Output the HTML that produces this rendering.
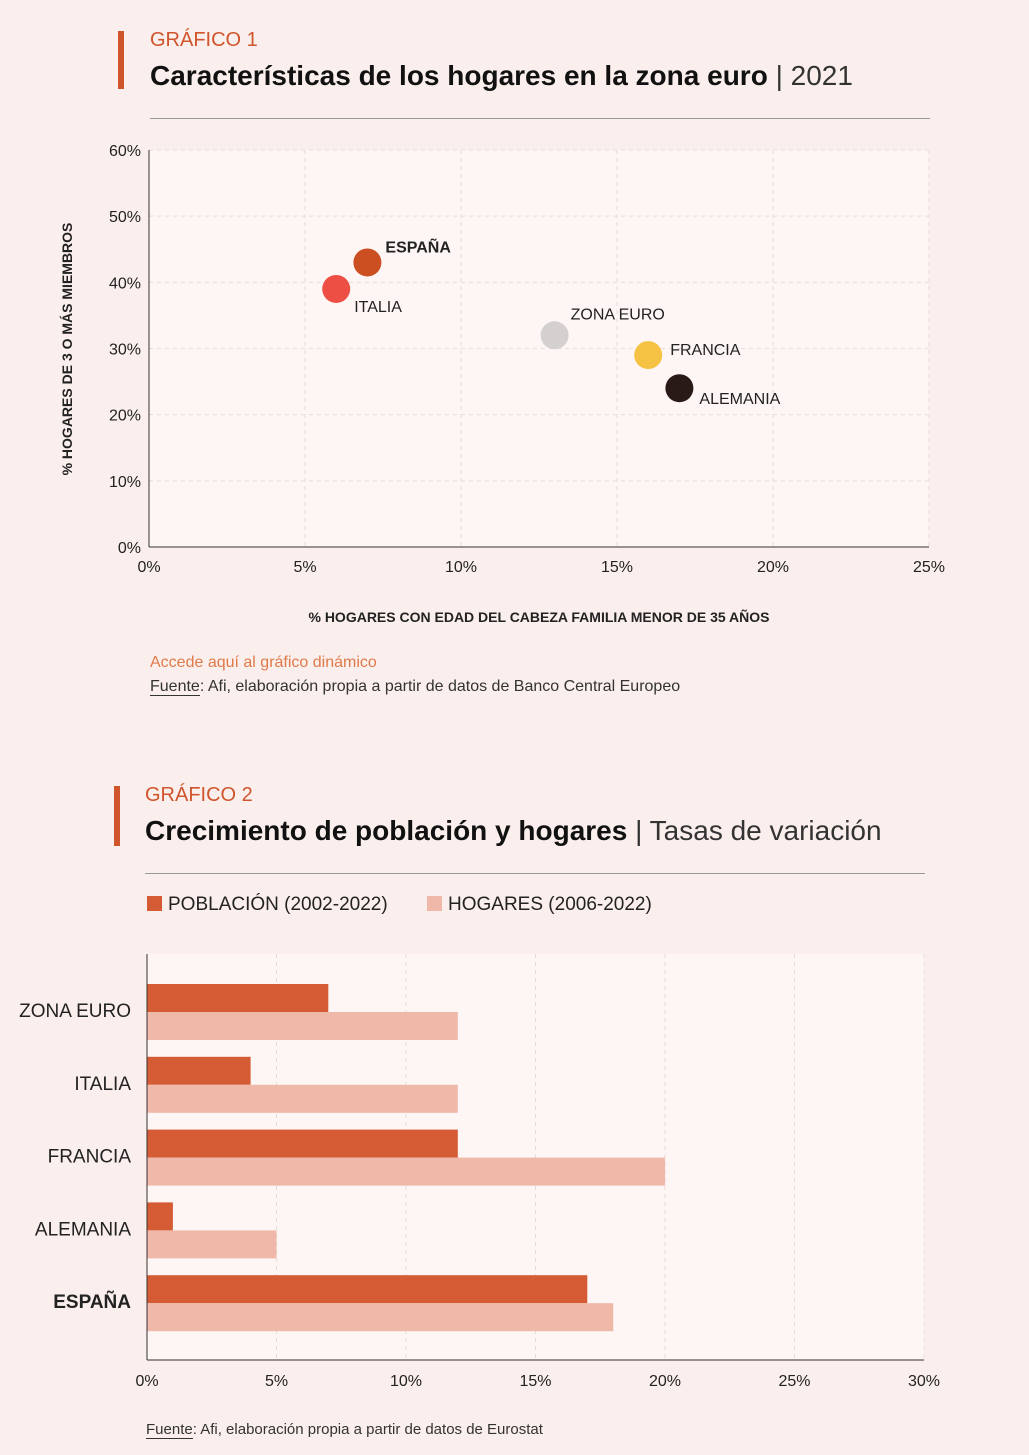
<!DOCTYPE html>
<html><head><meta charset="utf-8"><style>
body{margin:0;width:1029px;height:1455px;background:#faefec;font-family:"Liberation Sans",sans-serif;color:#1a1a1a;position:relative;overflow:hidden}
.abs{position:absolute;white-space:nowrap}
</style></head><body>
<div class="abs" style="left:118px;top:31px;width:6px;height:58px;background:#d0542c"></div>
<div class="abs" style="left:150px;top:29px;font-size:20px;color:#d0542c">GRÁFICO 1</div>
<div class="abs" style="left:150px;top:60px;font-size:28px;color:#111"><b style="font-weight:600">Características de los hogares en la zona euro</b> <span style="font-weight:300;color:#333">| 2021</span></div>
<div class="abs" style="left:150px;top:118px;width:780px;height:1px;background:#999"></div>
<svg class="abs" style="left:0;top:0" width="1029" height="1455">
<g id="c1"></g><g id="c2"></g>
</svg>
<div class="abs" style="left:150px;top:654px;font-size:16px;color:#e07a4a">Accede aquí al gráfico dinámico</div>
<div class="abs" style="left:150px;top:678px;font-size:16px;color:#333"><span style="border-bottom:1px solid #333">Fuente</span>: Afi, elaboración propia a partir de datos de Banco Central Europeo</div>

<div class="abs" style="left:114px;top:786px;width:6px;height:60px;background:#d0542c"></div>
<div class="abs" style="left:145px;top:784px;font-size:20px;color:#d0542c">GRÁFICO 2</div>
<div class="abs" style="left:145px;top:815px;font-size:28px;color:#111"><b style="font-weight:600">Crecimiento de población y hogares</b> <span style="font-weight:300;color:#333">| Tasas de variación</span></div>
<div class="abs" style="left:145px;top:873px;width:780px;height:1px;background:#999"></div>
<div class="abs" style="left:147px;top:894px;font-size:19px;color:#222"><span style="display:inline-block;width:15px;height:15px;background:#d45b33;vertical-align:-1px;margin-right:6px"></span>POBLACIÓN (2002-2022)</div>
<div class="abs" style="left:427px;top:894px;font-size:19px;color:#222"><span style="display:inline-block;width:15px;height:15px;background:#f0b8a8;vertical-align:-1px;margin-right:6px"></span>HOGARES (2006-2022)</div>
<div class="abs" style="left:146px;top:1421px;font-size:15px;color:#333"><span style="border-bottom:1px solid #333">Fuente</span>: Afi, elaboración propia a partir de datos de Eurostat</div>
<script>
const NS="http://www.w3.org/2000/svg";
const names1=["ESPAÑA","ITALIA","ZONA EURO","FRANCIA","ALEMANIA"];
const xs1=[7,6,13,16,17];
const ys1=[43,39,32,29,24];
const xTicks1=["0%","5%","10%","15%","20%","25%"];
const yTicks1=["0%","10%","20%","30%","40%","50%","60%"];
const cats2=["ZONA EURO","ITALIA","FRANCIA","ALEMANIA","ESPAÑA"];
const pob2=[7,4,12,1,17];
const hog2=[12,12,20,5,18];
const xTicks2=["0%","5%","10%","15%","20%","25%","30%"];
function mk(p,t,a,txt){const e=document.createElementNS(NS,t);for(const k in a)e.setAttribute(k,a[k]);if(txt!==undefined)e.textContent=txt;p.appendChild(e);return e;}
// chart 1
const g1=document.getElementById('c1');
const X1=v=>149+v/25*780, Y1=v=>547-v/60*397;
let r=mk(g1,'rect',{x:149,y:150,width:780,height:397,fill:'#fdf6f4'});


xTicks1.forEach((t,i)=>{const x=X1(i*5);
 if(i>0){let l=mk(g1,'line',{x1:x,x2:x,y1:150,y2:547,stroke:'#e6dcda','stroke-dasharray':'4 4'});}
 let tx=mk(g1,'text',{x:x,y:572,'font-size':16,'text-anchor':'middle',fill:'#222'},t);});
yTicks1.forEach((t,i)=>{const y=Y1(i*10);
 if(i>0){let l=mk(g1,'line',{x1:149,x2:929,y1:y,y2:y,stroke:'#e6dcda','stroke-dasharray':'4 4'});}
 let tx=mk(g1,'text',{x:141,y:y+6,'font-size':16,'text-anchor':'end',fill:'#222'},t);});
let ax=mk(g1,'line',{x1:149,x2:149,y1:150,y2:547,stroke:'#333'});
ax=mk(g1,'line',{x1:149,x2:929,y1:547,y2:547,stroke:'#333'});
const cols1=["#cc4f22","#ee4f45","#d3d0cf","#f5c244","#2a1a17"];
const lo=[[18,-10],[18,23],[16,-16],[22,0],[20,16]];
names1.forEach((n,i)=>{const cx=X1(xs1[i]),cy=Y1(ys1[i]);
 let c=mk(g1,'circle',{cx:cx,cy:cy,r:14,fill:cols1[i]});
 let t=mk(g1,'text',{x:cx+lo[i][0],y:cy+lo[i][1],'font-size':16,fill:'#222','font-weight':i==0?'bold':'normal'},n);});
let t1=mk(g1,'text',{x:539,y:622,'font-size':14,'font-weight':'bold','text-anchor':'middle',fill:'#222'},'% HOGARES CON EDAD DEL CABEZA FAMILIA MENOR DE 35 AÑOS');
t1=mk(g1,'text',{x:0,y:0,'font-size':14,'font-weight':'bold','text-anchor':'middle',fill:'#222',transform:'translate(72,349) rotate(-90)'},'% HOGARES DE 3 O MÁS MIEMBROS');
// chart 2
const g2=document.getElementById('c2');
const X2=v=>147+v/30*777;
r=mk(g2,'rect',{x:147,y:954,width:777,height:406,fill:'#fdf6f4'});


xTicks2.forEach((t,i)=>{const x=X2(i*5);
 if(i>0){let l=mk(g2,'line',{x1:x,x2:x,y1:954,y2:1360,stroke:'#e6dcda','stroke-dasharray':'4 4'});}
 let tx=mk(g2,'text',{x:x,y:1386,'font-size':16,'text-anchor':'middle',fill:'#222'},t);});
cats2.forEach((c,i)=>{const y0=984+i*72.8;
 let b=mk(g2,'rect',{x:147,y:y0,width:X2(pob2[i])-147,height:28,fill:'#d45b33'});
 b=mk(g2,'rect',{x:147,y:y0+28,width:X2(hog2[i])-147,height:28,fill:'#f0b8a8'});
 let t=mk(g2,'text',{x:131,y:y0+33,'font-size':19,'text-anchor':'end',fill:'#222','font-weight':c=='ESPAÑA'?'bold':'normal'},c);});
ax=mk(g2,'line',{x1:147,x2:147,y1:954,y2:1360,stroke:'#333'});
ax=mk(g2,'line',{x1:147,x2:924,y1:1360,y2:1360,stroke:'#333'});
</script>
</body></html>
